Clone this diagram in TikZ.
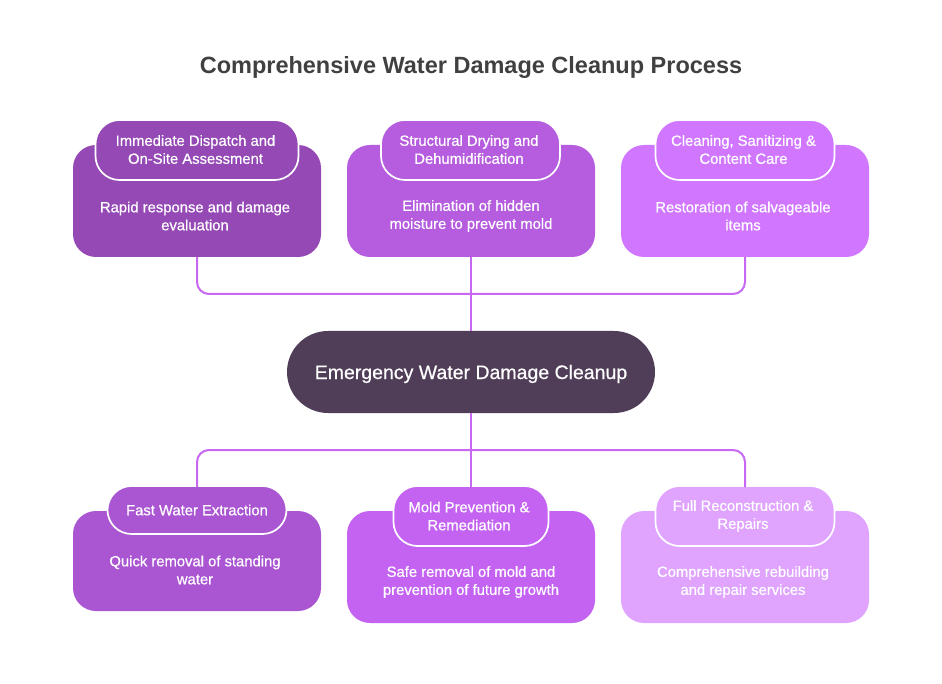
\documentclass[tikz,border=0pt]{standalone}
\usepackage{fontspec}
\setmainfont{Liberation Sans}
\newfontfamily\medfont[RawFeature={embolden=0.6}]{Liberation Sans}
\definecolor{linkcol}{HTML}{C767F2}
\definecolor{hubcol}{HTML}{503D58}
\definecolor{titlecol}{HTML}{404040}
\definecolor{dispatchcol}{HTML}{9549B5}
\definecolor{dryingcol}{HTML}{B55CDF}
\definecolor{cleaningcol}{HTML}{D177FF}
\definecolor{extractcol}{HTML}{AA55D2}
\definecolor{moldcol}{HTML}{C463F2}
\definecolor{rebuildcol}{HTML}{E0A4FF}

\tikzstyle{card}=[rectangle,
                        rounded corners=23pt,
                        minimum width=248pt,
                        inner sep=0pt]
\tikzstyle{tab}=[rectangle,
                        rounded corners=24pt,
                        line width=1.7pt,
                        draw=white,
                        outer sep=0pt,
                        inner sep=0pt]
\tikzstyle{caption}=[text=white,
                        align=center,
                        font=\medfont\fontsize{14.8}{18}\selectfont]
\tikzstyle{hub}=[rectangle,
                        rounded corners=41pt,
                        fill=hubcol,
                        minimum width=368pt,
                        minimum height=82pt,
                        text height=18pt,
                        text depth=4pt,
                        text=white,
                        font=\medfont\fontsize{19.5}{24}\selectfont]
\tikzstyle{link}=[line width=2pt,
                        draw=linkcol,
                        rounded corners=12pt]

\begin{document}
\begin{tikzpicture}[x=1pt,y=-1pt]
  \useasboundingbox (0,0) rectangle (942,684);

  \node (title) [text=titlecol,font=\bfseries\fontsize{23.5}{28}\selectfont] at (471,67.5) {Comprehensive Water Damage Cleanup Process};

  % upper row
  \node (dispatch) [card,fill=dispatchcol,minimum height=112pt] at (197,201) {};
  \node (drying) [card,fill=dryingcol,minimum height=112pt] at (471,201) {};
  \node (cleaning) [card,fill=cleaningcol,minimum height=112pt] at (745,201) {};
  \node (dispatchtext) [caption] at (195,216) {Rapid response and damage\\evaluation};
  \node (dryingtext) [caption] at (471,216) {Elimination of hidden\\moisture to prevent mold};
  \node (cleaningtext) [caption] at (743,216) {Restoration of salvageable\\items};
  \node (dispatchtab) [tab,fill=dispatchcol,minimum width=203pt,minimum height=60pt] at (197,150) {};
  \node (dryingtab) [tab,fill=dryingcol,minimum width=179pt,minimum height=60pt] at (470.5,150) {};
  \node (cleaningtab) [tab,fill=cleaningcol,minimum width=179pt,minimum height=60pt] at (745,150) {};
  \node (dispatchlabel) [caption] at (195.5,149.5) {Immediate Dispatch and\\On-Site Assessment};
  \node (dryinglabel) [caption] at (469,149.5) {Structural Drying and\\Dehumidification};
  \node (cleaninglabel) [caption] at (743.5,149.5) {Cleaning, Sanitizing \&\\Content Care};

  \node (center) [hub] at (471,372) {Emergency Water Damage Cleanup};

  % lower row
  \node (extract) [card,fill=extractcol,minimum height=100pt] at (197,561) {};
  \node (mold) [card,fill=moldcol,minimum height=112pt] at (471,567) {};
  \node (rebuild) [card,fill=rebuildcol,minimum height=112pt] at (745,567) {};
  \node (extracttext) [caption] at (195,570) {Quick removal of standing\\water};
  \node (moldtext) [caption] at (471,582) {Safe removal of mold and\\prevention of future growth};
  \node (rebuildtext) [caption] at (743,582) {Comprehensive rebuilding\\and repair services};
  \node (extracttab) [tab,fill=extractcol,minimum width=179pt,minimum height=48pt] at (197,510) {};
  \node (moldtab) [tab,fill=moldcol,minimum width=155pt,minimum height=60pt] at (471,516) {};
  \node (rebuildtab) [tab,fill=rebuildcol,minimum width=179pt,minimum height=60pt] at (745,516) {};
  \node (extractlabel) [caption] at (197,510) {Fast Water Extraction};
  \node (moldlabel) [caption] at (469,516) {Mold Prevention \&\\Remediation};
  \node (rebuildlabel) [caption] at (743,516) {Full Reconstruction \&\\Repairs};

  \coordinate (topbus) at (471,294);
  \coordinate (lowbus) at (471,450);

  % connectors
  \draw[link] (dispatch.south) |- (topbus) -| (cleaning.south);
  \draw[link,shorten <=-1pt,shorten >=-1pt] (extracttab.north) |- (lowbus) -| (rebuildtab.north);
  \path[-]
      (drying) edge[link] (center)
      (center) edge[link,shorten >=-1pt] (moldtab)
;

\end{tikzpicture}
\end{document}
